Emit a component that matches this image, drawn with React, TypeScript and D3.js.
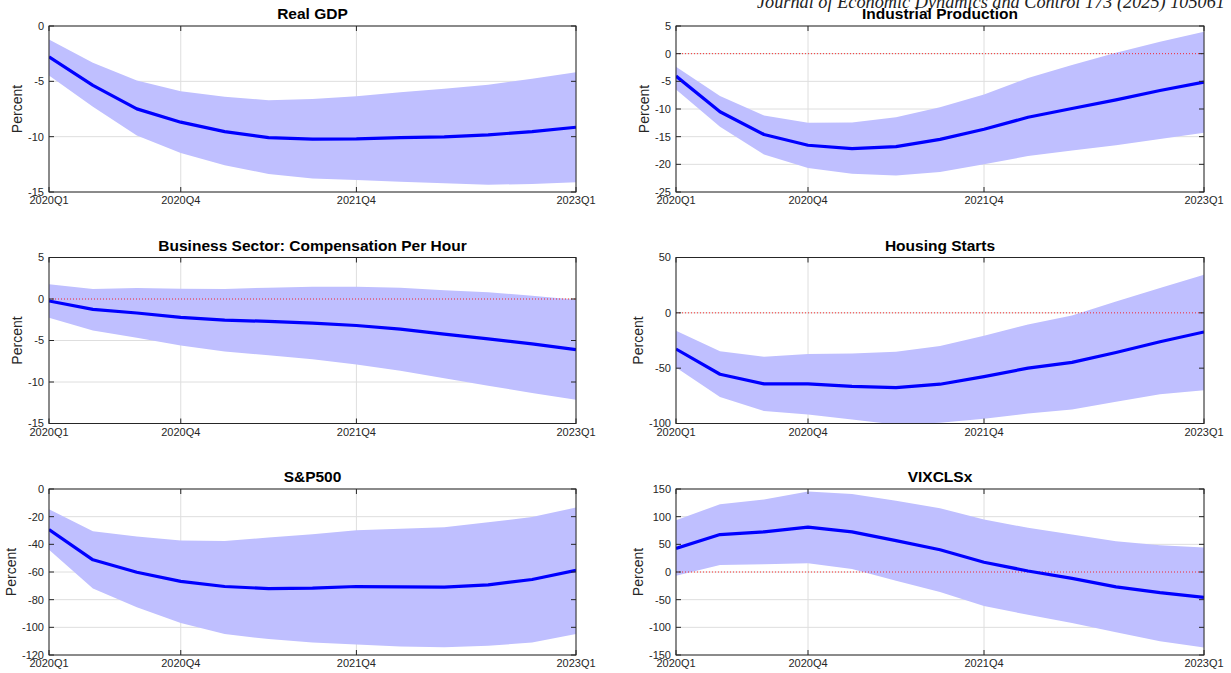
import React from 'react'
import * as d3 from 'd3'

const W = 1231
const H = 673
const FONT = '"Liberation Sans", Arial, Helvetica, sans-serif'
const BAND = '#bfbfff'
const LINE = '#0000ff'
const GRID = '#dedede'
const AXIS = '#262626'

const QUARTERS = [
  '2020Q1', '2020Q2', '2020Q3', '2020Q4',
  '2021Q1', '2021Q2', '2021Q3', '2021Q4',
  '2022Q1', '2022Q2', '2022Q3', '2022Q4', '2023Q1',
]
const X_TICKS = ['2020Q1', '2020Q4', '2021Q4', '2023Q1']

// Real GDP
const GDP_MED = [-2.78, -5.37, -7.49, -8.69, -9.54, -10.08, -10.23, -10.2, -10.08, -10.02, -9.84, -9.54, -9.15]
const GDP_UP = [-1.21, -3.32, -4.92, -5.89, -6.4, -6.7, -6.6, -6.34, -5.98, -5.67, -5.31, -4.77, -4.17]
const GDP_LO = [-4.47, -7.3, -9.9, -11.47, -12.59, -13.37, -13.79, -13.91, -14.07, -14.22, -14.34, -14.28, -14.12]
const GDP_TICKS = [0, -5, -10, -15]

// Industrial Production
const IP_MED = [-4.05, -10.5, -14.6, -16.55, -17.15, -16.8, -15.5, -13.65, -11.5, -9.9, -8.34, -6.65, -5.14]
const IP_UP = [-2.36, -7.67, -11.17, -12.5, -12.44, -11.48, -9.67, -7.37, -4.41, -2.06, 0.17, 2.16, 3.97]
const IP_LO = [-6.47, -13.23, -18.23, -20.65, -21.7, -22.0, -21.4, -20.0, -18.5, -17.5, -16.55, -15.4, -14.3]
const IP_TICKS = [5, 0, -5, -10, -15, -20, -25]

// Business Sector: Compensation Per Hour
const COMP_MED = [-0.24, -1.25, -1.69, -2.22, -2.54, -2.7, -2.9, -3.19, -3.63, -4.23, -4.8, -5.4, -6.09]
const COMP_UP = [1.77, 1.21, 1.33, 1.25, 1.21, 1.37, 1.49, 1.49, 1.37, 1.05, 0.81, 0.4, -0.08]
const COMP_LO = [-2.26, -3.79, -4.68, -5.6, -6.33, -6.77, -7.26, -7.9, -8.63, -9.56, -10.44, -11.33, -12.14]
const COMP_TICKS = [5, 0, -5, -10, -15]

// Housing Starts
const HOUS_MED = [-32.7, -55.5, -64.2, -64.2, -66.4, -67.6, -64.5, -57.6, -50, -44.8, -35.8, -26.1, -17.3]
const HOUS_UP = [-16.1, -34.8, -39.7, -37.3, -36.7, -35.2, -30, -20.6, -10.6, -2.4, 10.3, 22.4, 34.5]
const HOUS_LO = [-49.4, -76, -88.8, -91.8, -96.4, -101, -99.4, -95.8, -90.9, -87.3, -80.3, -73.6, -70]
const HOUS_TICKS = [50, 0, -50, -100]

// S&P500
const SP_MED = [-29.3, -51.2, -60.2, -66.8, -70.5, -72, -71.7, -70.5, -70.7, -71, -69.3, -65.4, -58.8]
const SP_UP = [-14.6, -30.5, -34.4, -37.3, -37.6, -35.1, -32.7, -29.8, -28.8, -27.6, -24.1, -20.2, -13.4]
const SP_LO = [-43.9, -72, -85.4, -96.8, -104.9, -108.5, -111, -112.4, -113.9, -114.4, -113.4, -111, -104.9]
const SP_TICKS = [0, -20, -40, -60, -80, -100, -120]

// VIXCLSx
const VIX_MED = [42.7, 67.7, 72.6, 81.1, 72.6, 56.7, 40.2, 17.7, 1.8, -11.6, -26.8, -37.2, -45.7]
const VIX_UP = [93.3, 122.6, 131.1, 145.7, 140.9, 128.7, 115.2, 95.1, 79.9, 67.7, 55.5, 48.2, 44.5]
const VIX_LO = [-6.7, 12.8, 14, 15.9, 5.5, -15.9, -36, -61.6, -77.4, -92.1, -109.1, -125, -136.6]
const VIX_TICKS = [150, 100, 50, 0, -50, -100, -150]

const PANELS = [
  { title: 'Real GDP', med: GDP_MED, up: GDP_UP, lo: GDP_LO, ticks: GDP_TICKS },
  { title: 'Industrial Production', med: IP_MED, up: IP_UP, lo: IP_LO, ticks: IP_TICKS },
  { title: 'Business Sector: Compensation Per Hour', med: COMP_MED, up: COMP_UP, lo: COMP_LO, ticks: COMP_TICKS },
  { title: 'Housing Starts', med: HOUS_MED, up: HOUS_UP, lo: HOUS_LO, ticks: HOUS_TICKS },
  { title: 'S&P500', med: SP_MED, up: SP_UP, lo: SP_LO, ticks: SP_TICKS },
  { title: 'VIXCLSx', med: VIX_MED, up: VIX_UP, lo: VIX_LO, ticks: VIX_TICKS },
]

const COL_X = [49, 676]
const COL_W = [527, 528]
const ROW_Y = [26, 257.5, 489]
const PH = 166

let measureCtx: CanvasRenderingContext2D | null = null
function textWidth(s: string, font: string) {
  if (!measureCtx) measureCtx = document.createElement('canvas').getContext('2d')
  if (!measureCtx) return s.length * 6
  measureCtx.font = font
  return measureCtx.measureText(s).width
}

function Panel({ p, idx }: { p: typeof PANELS[number]; idx: number }) {
  const col = idx % 2
  const row = Math.floor(idx / 2)
  const x0 = COL_X[col]
  const w = COL_W[col]
  const y0 = ROW_Y[row]
  const [yMin, yMax] = d3.extent(p.ticks) as [number, number]
  const x = d3.scalePoint<string>().domain(QUARTERS).range([x0, x0 + w])
  const y = d3.scaleLinear().domain([yMin, yMax]).range([y0 + PH, y0])

  const area = d3.area<number>()
    .x((_, i) => x(QUARTERS[i]) as number)
    .y0((_, i) => y(p.lo[i]))
    .y1((d) => y(d))
  const line = d3.line<number>()
    .x((_, i) => x(QUARTERS[i]) as number)
    .y((d) => y(d))

  const maxTick = d3.max(p.ticks, (t) => textWidth(String(t), `11px ${FONT}`)) as number
  const labelX = x0 - 6 - maxTick - 5
  const clipId = `clip-${idx}`
  // zero reference only when it sits inside the box
  const showZero = yMin < 0 && yMax > 0

  return (
    <g>
      <defs>
        <clipPath id={clipId}>
          <rect x={x0} y={y0} width={w} height={PH} />
        </clipPath>
      </defs>
      <rect x={x0} y={y0} width={w} height={PH} fill="#fff" />
      {/* grid */}
      {X_TICKS.map((q) => (
        <line key={q} x1={x(q)} x2={x(q)} y1={y0} y2={y0 + PH} stroke={GRID} strokeWidth={1} />
      ))}
      {p.ticks.map((t) => (
        <line key={t} x1={x0} x2={x0 + w} y1={y(t)} y2={y(t)} stroke={GRID} strokeWidth={1} />
      ))}
      <g clipPath={`url(#${clipId})`}>
        <path d={area(p.up) ?? ''} fill={BAND} />
        {showZero && (
          <line x1={x0} x2={x0 + w} y1={y(0)} y2={y(0)} stroke="#ff0000" strokeWidth={1} strokeDasharray="1,2" opacity={0.8} />
        )}
        <path d={line(p.med) ?? ''} fill="none" stroke={LINE} strokeWidth={3.2} strokeLinejoin="round" />
      </g>
      {/* box and ticks */}
      <rect x={x0} y={y0} width={w} height={PH} fill="none" stroke={AXIS} strokeWidth={1} />
      {p.ticks.map((t) => (
        <g key={t}>
          <line x1={x0} x2={x0 + 5} y1={y(t)} y2={y(t)} stroke={AXIS} />
          <line x1={x0 + w - 5} x2={x0 + w} y1={y(t)} y2={y(t)} stroke={AXIS} />
          <text x={x0 - 5} y={y(t)} dy="0.35em" textAnchor="end" fontSize={11} fontFamily={FONT} fill={AXIS}>
            {String(t)}
          </text>
        </g>
      ))}
      {X_TICKS.map((q) => (
        <g key={q}>
          <line x1={x(q)} x2={x(q)} y1={y0 + PH} y2={y0 + PH - 5} stroke={AXIS} />
          <line x1={x(q)} x2={x(q)} y1={y0} y2={y0 + 5} stroke={AXIS} />
          <text x={x(q)} y={y0 + PH + 12} textAnchor="middle" fontSize={11} fontFamily={FONT} fill={AXIS}>
            {q}
          </text>
        </g>
      ))}
      <text
        transform={`translate(${labelX},${y0 + PH / 2}) rotate(-90)`}
        textAnchor="middle"
        fontSize={14}
        fontFamily={FONT}
        fill={AXIS}
      >
        Percent
      </text>
      <text x={x0 + w / 2} y={y0 - 7} textAnchor="middle" fontSize={15.5} fontWeight="bold" fontFamily={FONT} fill="#000">
        {p.title}
      </text>
    </g>
  )
}

export default function App() {
  return (
    <svg
      width={W}
      height={H}
      style={{ position: 'absolute', left: 0, top: 0, background: '#fff' }}
    >
      <rect width={W} height={H} fill="#fff" />
      <text
        x={1225}
        y={8}
        textAnchor="end"
        fontSize={18}
        fontStyle="italic"
        fontFamily='"Liberation Serif", "DejaVu Serif", serif'
        fill="#222"
        textLength={468}
        lengthAdjust="spacingAndGlyphs"
      >
        Journal of Economic Dynamics and Control 173 (2025) 105061
      </text>
      {PANELS.map((p, i) => (
        <Panel key={p.title} p={p} idx={i} />
      ))}
    </svg>
  )
}
